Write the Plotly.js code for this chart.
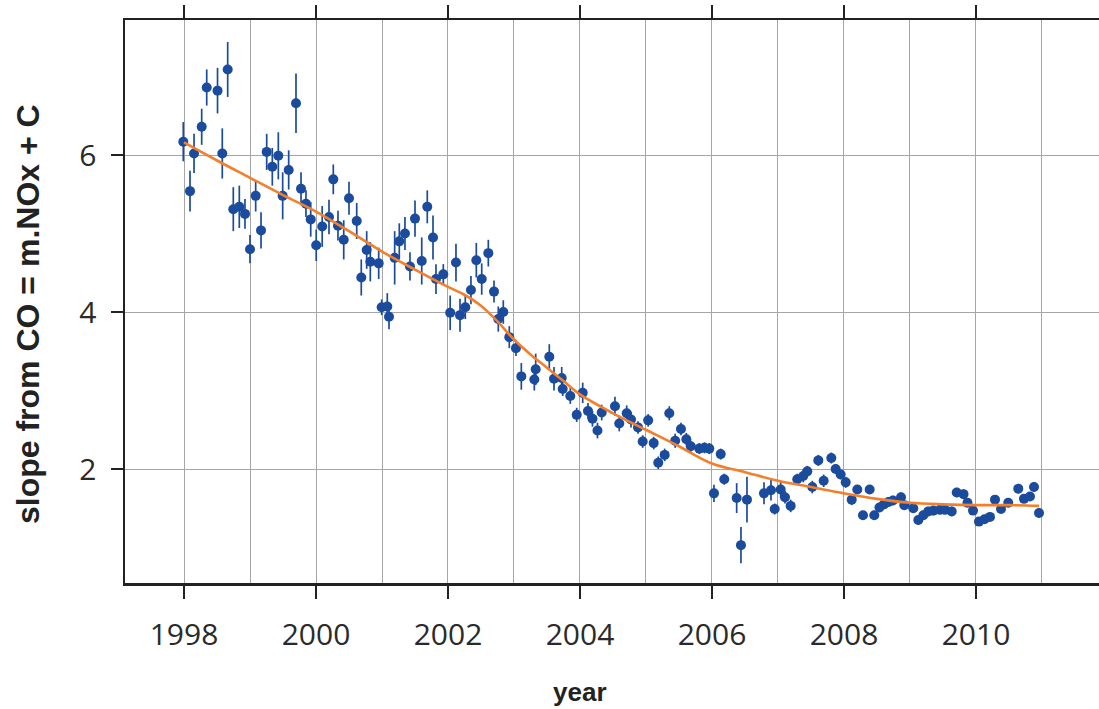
<!DOCTYPE html>
<html>
<head>
<meta charset="utf-8">
<script src="https://cdn.plot.ly/plotly-3.0.1.min.js"></script>
<style>html,body{margin:0;padding:0;background:#fff;}#chart{width:1099px;height:709px;}</style>
</head>
<body>
<div id="chart"></div>
<script>
// monthly slope estimates (decimal year)
const years = [1997.989,1998.091,1998.152,1998.268,1998.344,1998.508,1998.580,1998.662,1998.747,1998.838,1998.924,
1999.000,1999.086,1999.167,1999.253,1999.338,1999.429,1999.495,1999.586,1999.697,1999.773,1999.848,1999.920,
2000.003,2000.094,2000.197,2000.262,2000.333,2000.420,2000.500,2000.617,2000.686,2000.768,2000.823,2000.950,
2000.995,2001.080,2001.106,2001.192,2001.262,2001.348,2001.424,2001.500,2001.602,2001.686,2001.773,2001.818,2001.929,
2002.033,2002.121,2002.182,2002.262,2002.348,2002.429,2002.511,2002.611,2002.697,2002.762,2002.838,2002.929,
2003.030,2003.111,2003.308,2003.329,2003.535,2003.606,2003.723,2003.738,2003.853,2003.950,
2004.041,2004.121,2004.189,2004.265,2004.329,2004.530,2004.595,2004.708,2004.773,2004.879,2004.950,
2005.033,2005.117,2005.186,2005.283,2005.353,2005.442,2005.530,2005.611,2005.679,2005.808,2005.886,2005.959,
2006.030,2006.132,2006.186,2006.374,2006.439,2006.530,2006.788,2006.894,2006.950,
2007.041,2007.106,2007.192,2007.292,2007.383,2007.444,2007.520,2007.611,2007.692,2007.808,2007.874,2007.950,
2008.026,2008.117,2008.202,2008.288,2008.389,2008.459,2008.538,2008.606,2008.674,2008.742,2008.864,2008.914,
2009.050,2009.126,2009.202,2009.277,2009.353,2009.455,2009.530,2009.632,2009.708,2009.811,2009.871,2009.955,
2010.045,2010.129,2010.212,2010.288,2010.379,2010.489,2010.641,2010.727,2010.818,2010.879,2010.955];

const slope = [6.17,5.54,6.02,6.36,6.86,6.82,6.02,7.09,5.31,5.34,5.25,
4.80,5.48,5.04,6.04,5.85,5.99,5.48,5.81,6.66,5.57,5.38,5.18,
4.85,5.09,5.21,5.69,5.10,4.92,5.45,5.16,4.44,4.79,4.64,4.62,
4.06,4.07,3.94,4.69,4.90,5.00,4.58,5.19,4.65,5.34,4.95,4.42,4.48,
3.99,4.63,3.96,4.06,4.28,4.66,4.42,4.75,4.26,3.91,4.00,3.68,
3.54,3.18,3.14,3.27,3.43,3.15,3.16,3.02,2.93,2.69,
2.97,2.74,2.64,2.49,2.72,2.80,2.58,2.71,2.63,2.53,2.35,
2.62,2.33,2.08,2.18,2.71,2.36,2.51,2.38,2.29,2.26,2.27,2.26,
1.69,2.19,1.87,1.63,1.03,1.61,1.69,1.73,1.49,
1.74,1.64,1.53,1.87,1.91,1.97,1.77,2.11,1.85,2.14,2.00,1.93,
1.83,1.61,1.74,1.41,1.74,1.41,1.51,1.55,1.58,1.60,1.64,1.54,
1.50,1.35,1.41,1.46,1.47,1.48,1.48,1.46,1.70,1.68,1.57,1.47,
1.33,1.36,1.39,1.61,1.49,1.57,1.75,1.62,1.65,1.77,1.44];

const slopeErr = [0.25,0.26,0.25,0.23,0.23,0.29,0.32,0.35,0.28,0.27,0.19,
0.18,0.20,0.23,0.23,0.24,0.30,0.30,0.25,0.38,0.21,0.17,0.22,
0.20,0.26,0.22,0.19,0.19,0.25,0.21,0.23,0.23,0.24,0.25,0.20,
0.10,0.17,0.16,0.34,0.23,0.21,0.18,0.23,0.30,0.21,0.28,0.19,0.13,
0.22,0.24,0.21,0.15,0.18,0.22,0.20,0.17,0.14,0.16,0.15,0.14,
0.10,0.17,0.14,0.20,0.16,0.15,0.14,0.09,0.10,0.09,
0.13,0.10,0.10,0.10,0.10,0.12,0.10,0.10,0.10,0.08,0.08,
0.08,0.08,0.08,0.08,0.09,0.09,0.08,0.08,0.07,0.07,0.07,0.07,
0.11,0.07,0.07,0.19,0.23,0.29,0.14,0.13,0.07,
0.11,0.08,0.08,0.07,0.08,0.07,0.08,0.07,0.08,0.07,0.06,0.06,
0.07,0.07,0.05,0.05,0.05,0.06,0.06,0.06,0.06,0.06,0.06,0.06,
0.06,0.06,0.06,0.06,0.06,0.05,0.05,0.06,0.06,0.06,0.05,0.05,
0.05,0.05,0.05,0.05,0.05,0.05,0.06,0.05,0.05,0.06,0.06];

// smooth trend
const trendYears = [1998,1998.5,1999,1999.5,2000,2000.5,2001,2001.5,2002,2002.25,2002.5,2002.75,2003,2003.25,2003.5,2003.75,2004,2004.5,2005,2005.5,2006,2006.5,2007,2007.5,2008,2008.5,2009,2009.5,2010,2010.5,2010.955];
const trendVals  = [6.16,5.93,5.71,5.49,5.28,5.03,4.77,4.54,4.32,4.22,4.08,3.88,3.65,3.46,3.29,3.12,2.95,2.71,2.50,2.29,2.07,1.96,1.85,1.77,1.69,1.62,1.57,1.55,1.54,1.54,1.53];

const xTicks = [1998,2000,2002,2004,2006,2008,2010];
const xTickText = ['1998','2000','2002','2004','2006','2008','2010'];
const yTicks = [2,4,6];
const yTickText = ['2','4','6'];

const blue = '#1b4b9c';
const orange = '#f47f2a';
const axisCol = '#222222';
const gridCol = '#a6a6a6';
const tickFont = {family:'Open Sans, sans-serif', size:30, color:'#2a2a2a'};

const traces = [
  {
    x: years, y: slope, type:'scatter', mode:'markers',
    marker:{color:blue, size:10},
    error_y:{type:'data', array:slopeErr, visible:true, color:blue, thickness:1.7, width:0},
    hoverinfo:'skip'
  },
  {
    x: trendYears, y: trendVals, type:'scatter', mode:'lines',
    line:{color:orange, width:2.6, shape:'spline', smoothing:1},
    hoverinfo:'skip'
  }
];

const layout = {
  width:1099, height:709,
  margin:{l:125, r:0, t:20, b:126},
  paper_bgcolor:'#ffffff', plot_bgcolor:'#ffffff',
  showlegend:false,
  xaxis:{
    range:[1997.106, 2011.864],
    tickmode:'array', tickvals:xTicks, ticktext:xTickText,
    ticks:'outside', ticklen:13, tickwidth:2, tickcolor:axisCol,
    showline:true, linecolor:axisCol, linewidth:2.5, mirror:'ticks',
    showgrid:true, gridcolor:gridCol, gridwidth:1,
    minor:{tickmode:'linear', tick0:1997, dtick:1, showgrid:true, gridcolor:gridCol, gridwidth:1, ticks:''},
    zeroline:false, tickfont:tickFont, ticklabelstandoff:10
  },
  yaxis:{
    range:[0.548, 7.72],
    tickmode:'array', tickvals:yTicks, ticktext:yTickText,
    ticks:'outside', ticklen:12, tickwidth:2, tickcolor:axisCol,
    showline:true, linecolor:axisCol, linewidth:2.5, mirror:false,
    showgrid:true, gridcolor:gridCol, gridwidth:1,
    zeroline:false, tickfont:tickFont, ticklabelstandoff:8
  },
  annotations:[
    {text:'<b>year</b>', xref:'paper', yref:'paper', x:(580-125)/974, y:-(692-583)/563,
     xanchor:'center', yanchor:'middle', showarrow:false,
     font:{family:'Liberation Sans, Arial, sans-serif', size:26, color:'#222'}},
    {text:'<b>slope from CO = m.NOx + C</b>', xref:'paper', yref:'paper', x:-(125-28)/974, y:(583-314)/563,
     xanchor:'center', yanchor:'middle', showarrow:false, textangle:-90,
     font:{family:'Liberation Sans, Arial, sans-serif', size:32, color:'#222'}}
  ]
};

Plotly.newPlot('chart', traces, layout, {displayModeBar:false, staticPlot:true});
</script>
</body>
</html>
